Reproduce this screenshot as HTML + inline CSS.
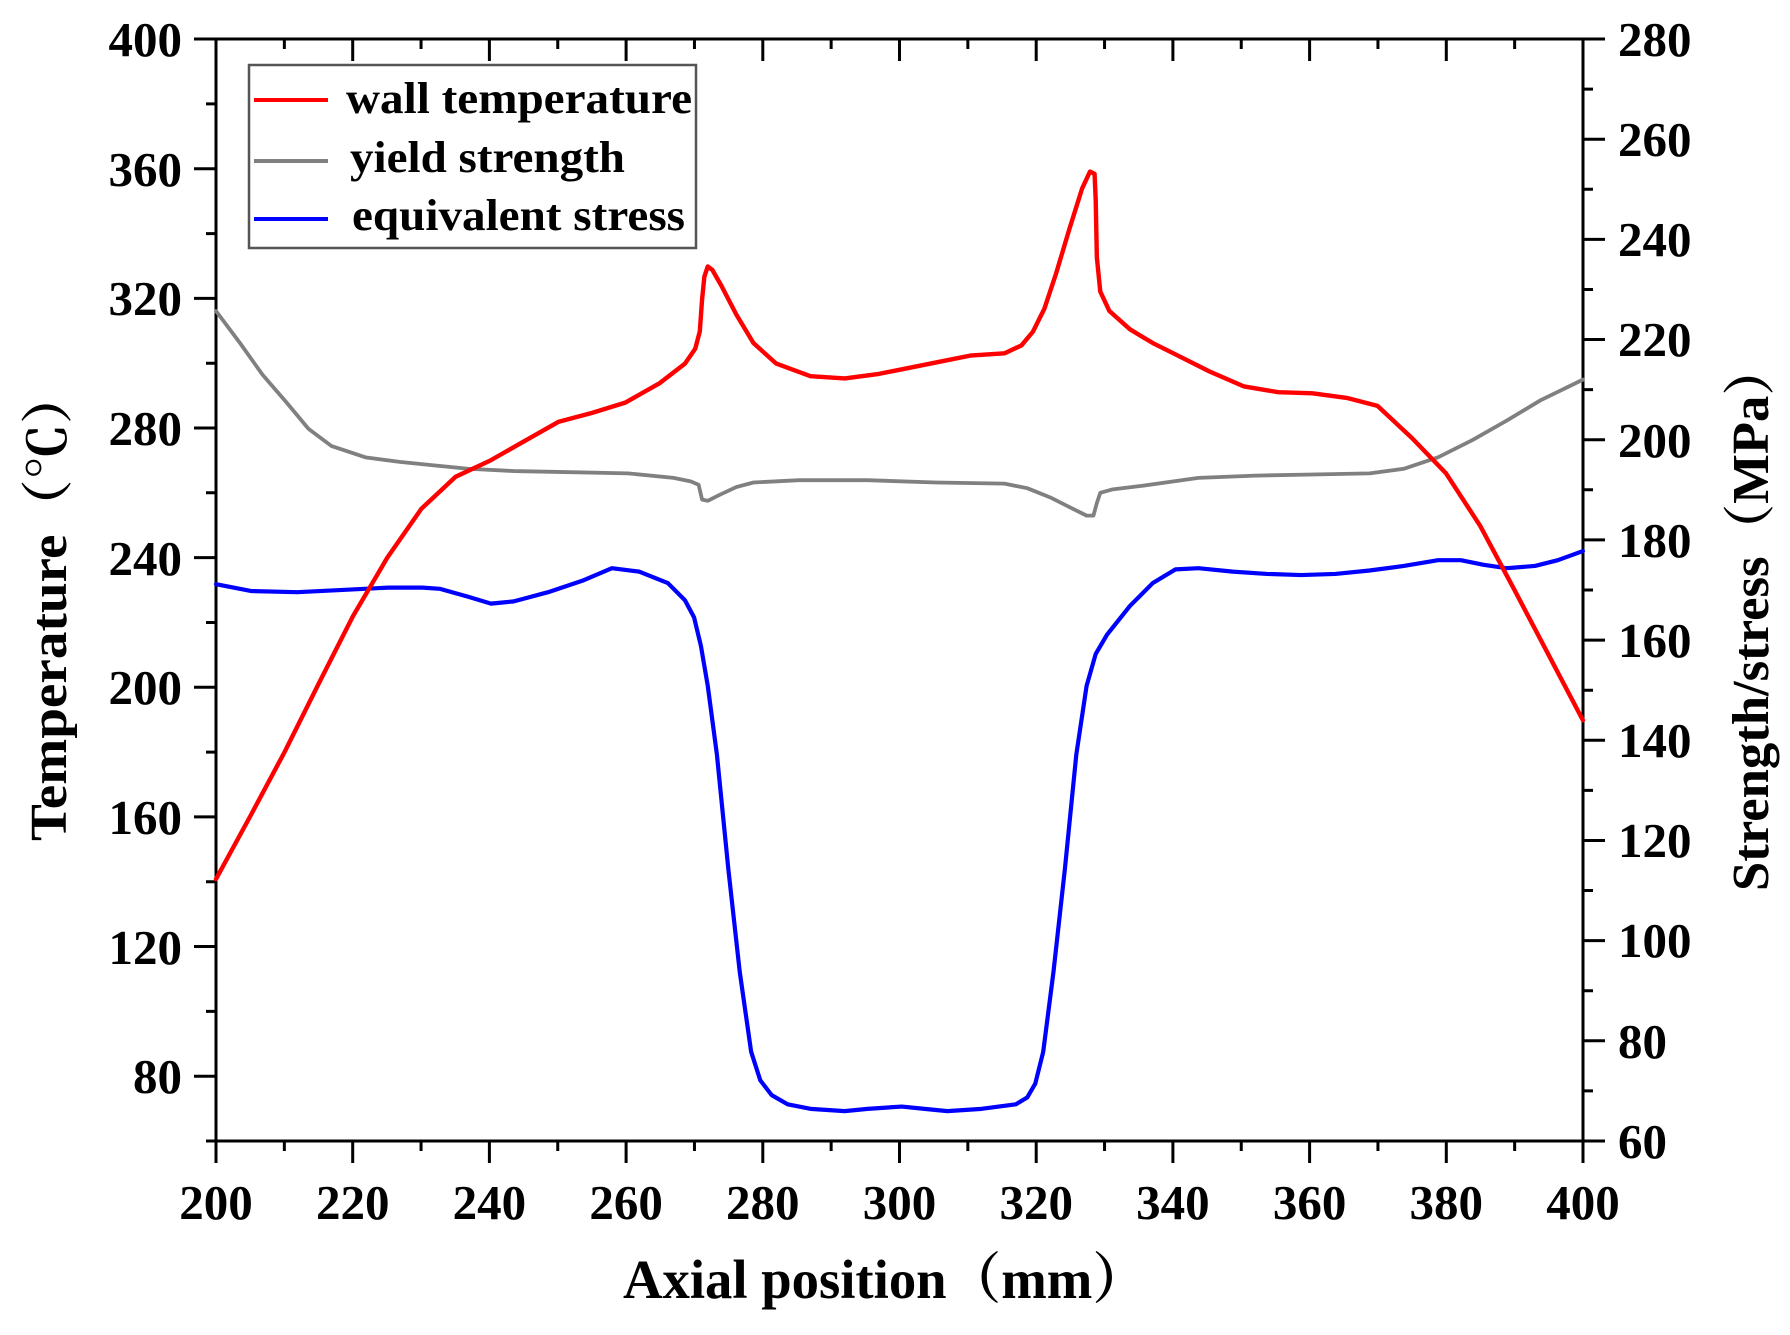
<!DOCTYPE html>
<html><head><meta charset="utf-8"><style>
html,body{margin:0;padding:0;background:#fff;}
svg{display:block;}
text{font-family:"Liberation Serif","Noto Serif CJK SC",serif;font-weight:bold;fill:#000;}
</style></head><body>
<svg width="1790" height="1335" viewBox="0 0 1790 1335" xmlns="http://www.w3.org/2000/svg">
<g stroke="#000" stroke-width="3" fill="none">
<line x1="216" y1="39" x2="1583" y2="39"/>
<line x1="216" y1="1141" x2="1583" y2="1141"/>
<line x1="216" y1="39" x2="216" y2="1141"/>
<line x1="1583" y1="39" x2="1583" y2="1141"/>
<!-- bottom ticks -->
<path d="M216,1141v22 M284.35,1141v10 M352.7,1141v22 M421.05,1141v10 M489.4,1141v22 M557.75,1141v10 M626.1,1141v22 M694.45,1141v10 M762.8,1141v22 M831.15,1141v10 M899.5,1141v22 M967.85,1141v10 M1036.2,1141v22 M1104.55,1141v10 M1172.9,1141v22 M1241.25,1141v10 M1309.6,1141v22 M1377.95,1141v10 M1446.3,1141v22 M1514.65,1141v10 M1583,1141v22"/>
<!-- top ticks -->
<path d="M216,39v22 M284.35,39v10 M352.7,39v22 M421.05,39v10 M489.4,39v22 M557.75,39v10 M626.1,39v22 M694.45,39v10 M762.8,39v22 M831.15,39v10 M899.5,39v22 M967.85,39v10 M1036.2,39v22 M1104.55,39v10 M1172.9,39v22 M1241.25,39v10 M1309.6,39v22 M1377.95,39v10 M1446.3,39v22 M1514.65,39v10 M1583,39v22"/>
<!-- left ticks -->
<path d="M206,1141h10 M194,1076.2h22 M206,1011.4h10 M194,946.5h22 M206,881.7h10 M194,816.9h22 M206,752.1h10 M194,687.3h22 M206,622.5h10 M194,557.6h22 M206,492.8h10 M194,428h22 M206,363.2h10 M194,298.4h22 M206,233.6h10 M194,168.7h22 M206,103.9h10 M194,39h22"/>
<!-- right ticks -->
<path d="M1583,1141h22 M1583,1090.9h10 M1583,1040.8h22 M1583,990.7h10 M1583,940.6h22 M1583,890.5h10 M1583,840.5h22 M1583,790.4h10 M1583,740.3h22 M1583,690.2h10 M1583,640.1h22 M1583,590h10 M1583,539.9h22 M1583,489.8h10 M1583,439.7h22 M1583,389.6h10 M1583,339.5h22 M1583,289.5h10 M1583,239.4h22 M1583,189.3h10 M1583,139.2h22 M1583,89.1h10 M1583,39h22"/>
</g>

<g font-size="49" text-anchor="middle">
<text x="216" y="1219">200</text><text x="352.7" y="1219">220</text><text x="489.4" y="1219">240</text><text x="626.1" y="1219">260</text><text x="762.8" y="1219">280</text><text x="899.5" y="1219">300</text><text x="1036.2" y="1219">320</text><text x="1172.9" y="1219">340</text><text x="1309.6" y="1219">360</text><text x="1446.3" y="1219">380</text><text x="1583" y="1219">400</text>
</g>
<g font-size="49" text-anchor="end">
<text x="182" y="1093">80</text><text x="182" y="964">120</text><text x="182" y="834">160</text><text x="182" y="704">200</text><text x="182" y="575">240</text><text x="182" y="445">280</text><text x="182" y="315">320</text><text x="182" y="186">360</text><text x="182" y="56">400</text>
</g>
<g font-size="49" text-anchor="start">
<text x="1618" y="1158">60</text><text x="1618" y="1058">80</text><text x="1618" y="957">100</text><text x="1618" y="857">120</text><text x="1618" y="757">140</text><text x="1618" y="657">160</text><text x="1618" y="557">180</text><text x="1618" y="457">200</text><text x="1618" y="356">220</text><text x="1618" y="256">240</text><text x="1618" y="156">260</text><text x="1618" y="56">280</text>
</g>

<g transform="translate(216,39) scale(1.141,1.143) translate(-189,-34)" fill="none" stroke-linejoin="round" stroke-linecap="round">
<polyline stroke="#808080" stroke-width="3.8" vector-effect="non-scaling-stroke" points="189,272 210,300 230,328 250,351 270,375 290,390 320,400 350,404 380,407 410,410 450,412 500,413 550,414 590,418 605,421 612,424 615,437 620,438 630,433 645,426 660,422 700,420 760,420 820,422 880,423 900,427 920,435 940,445 952,451 958,451 961,440 964,431 975,428 1000,425 1050,418 1100,416 1150,415 1200,414 1230,410 1260,400 1290,385 1320,368 1350,350 1387,332"/>
<polyline stroke="#0000ff" stroke-width="4.2" vector-effect="non-scaling-stroke" points="189,511 220,517 260,518 300,516 340,514 370,514 385,515 410,522 430,528 450,526 480,518 510,508 536,497 560,500 585,510 600,525 608,540 614,565 620,600 628,660 638,760 648,850 658,920 666,945 676,958 690,966 710,970 740,972 760,970 790,968 810,970 830,972 860,970 890,966 900,960 907,948 914,920 923,850 933,760 943,660 952,600 960,572 970,555 990,530 1010,510 1030,498 1050,497 1080,500 1110,502 1140,503 1170,502 1200,499 1230,495 1260,490 1280,490 1300,494 1320,497 1345,495 1365,490 1387,482"/>
<polyline stroke="#ff0000" stroke-width="4.4" vector-effect="non-scaling-stroke" points="189,769 219,714 249,658 279,598 309,539 339,488 369,445 399,417 429,403 459,386 489,369 519,361 548,352 578,335 600,318 609,305 613,290 615,262 617,242 620,233 624,236 632,250 645,275 660,300 680,318 710,329 740,331 770,327 800,321 830,315 850,311 880,309 895,302 905,290 915,270 925,240 937,200 948,165 955,150 959,152 960,175 961,225 964,255 972,272 990,288 1010,300 1030,310 1060,325 1090,338 1120,343 1150,344 1180,348 1207,355 1237,383 1267,414 1297,460 1327,516 1357,573 1387,630"/>
</g>

<rect x="249" y="65" width="447" height="183" fill="#fff" stroke="#555" stroke-width="2.5"/>
<line x1="254" y1="100" x2="328" y2="100" stroke="#ff0000" stroke-width="4"/>
<line x1="254" y1="161" x2="328" y2="161" stroke="#808080" stroke-width="4"/>
<line x1="254" y1="219" x2="328" y2="219" stroke="#0000ff" stroke-width="4"/>
<text x="346" y="113" font-size="44" textLength="346" lengthAdjust="spacingAndGlyphs">wall temperature</text>
<text x="350" y="172" font-size="44" textLength="275" lengthAdjust="spacingAndGlyphs">yield strength</text>
<text x="352" y="230" font-size="44" textLength="333" lengthAdjust="spacingAndGlyphs">equivalent stress</text>

<text x="885" y="1298" font-size="55" text-anchor="middle" textLength="524" lengthAdjust="spacingAndGlyphs">Axial position（mm）</text>
<text transform="translate(66,605) rotate(-90)" font-size="52" text-anchor="middle" textLength="472" lengthAdjust="spacingAndGlyphs">Temperature（℃）</text>
<text transform="translate(1768,617) rotate(-90)" font-size="52" text-anchor="middle" textLength="548" lengthAdjust="spacingAndGlyphs">Strength/stress（MPa）</text>
</svg>
</body></html>
